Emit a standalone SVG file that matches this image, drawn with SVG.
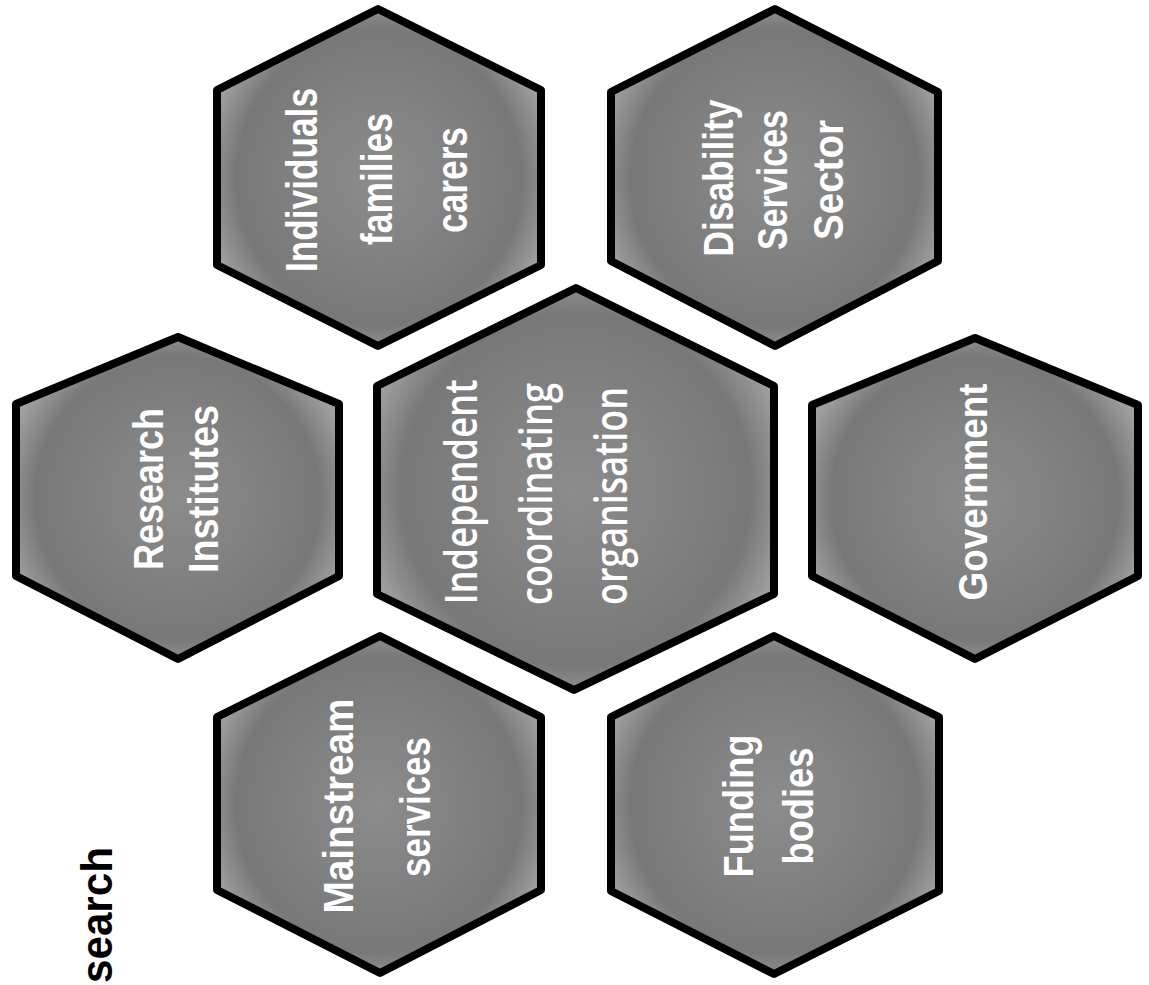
<svg xmlns="http://www.w3.org/2000/svg" width="1149" height="985" viewBox="0 0 1149 985">
<defs>
<radialGradient id="hexFill" cx="50%" cy="50%" r="55%">
<stop offset="0%" stop-color="#8c8c8c"/>
<stop offset="80%" stop-color="#787878"/>
<stop offset="100%" stop-color="#a0a0a0"/>
</radialGradient>
<style>
.hex{fill:url(#hexFill);stroke:#000;stroke-width:8;stroke-linejoin:round}
.lbl{fill:#fff;font-family:"Liberation Sans",Arial,sans-serif;font-weight:700;text-anchor:middle}
.lbl2{fill:#fff;font-family:"Open Sans","Liberation Sans",sans-serif;font-weight:600;text-anchor:middle}
.title{fill:#000;font-family:"Liberation Sans",Arial,sans-serif;font-weight:700}
</style>
</defs>
<rect width="1149" height="985" fill="#fff"/>
<g id="connectors"/>
<g id="node-individuals">
<polygon class="hex" points="378,9 541,90 541,265 378,346 217,265 217,90"/>
<text class="lbl" font-size="44" textLength="184" lengthAdjust="spacingAndGlyphs" transform="translate(317,180) rotate(-90)">Individuals</text>
<text class="lbl" font-size="44" textLength="132" lengthAdjust="spacingAndGlyphs" transform="translate(392,179) rotate(-90)">families</text>
<text class="lbl" font-size="44" textLength="106" lengthAdjust="spacingAndGlyphs" transform="translate(467,180) rotate(-90)">carers</text>
</g>
<g id="node-disability">
<polygon class="hex" points="775,9 938,92 938,261 775,346 611,261 611,92"/>
<text class="lbl" font-size="42" textLength="157" lengthAdjust="spacingAndGlyphs" transform="translate(733,178) rotate(-90)">Disability</text>
<text class="lbl" font-size="42" textLength="140" lengthAdjust="spacingAndGlyphs" transform="translate(787,180) rotate(-90)">Services</text>
<text class="lbl" font-size="42" textLength="120" lengthAdjust="spacingAndGlyphs" transform="translate(843,180) rotate(-90)">Sector</text>
</g>
<g id="node-research">
<polygon class="hex" points="178,337 339,404 339,576 178,659 16,576 16,404"/>
<text class="lbl" font-size="42" textLength="162" lengthAdjust="spacingAndGlyphs" transform="translate(163,489) rotate(-90)">Research</text>
<text class="lbl" font-size="42" textLength="168" lengthAdjust="spacingAndGlyphs" transform="translate(218,489) rotate(-90)">Institutes</text>
</g>
<g id="node-independent">
<polygon class="hex" points="576,288 774,386 774,594 574,690 377,594 377,386"/>
<text class="lbl2" font-size="46" textLength="225" lengthAdjust="spacingAndGlyphs" transform="translate(477,492) rotate(-90)">Independent</text>
<text class="lbl2" font-size="46" textLength="222" lengthAdjust="spacingAndGlyphs" transform="translate(552,494) rotate(-90)">coordinating</text>
<text class="lbl2" font-size="46" textLength="218" lengthAdjust="spacingAndGlyphs" transform="translate(627,496) rotate(-90)">organisation</text>
</g>
<g id="node-government">
<polygon class="hex" points="975,338 1138,405 1138,576 975,659 812,576 812,405"/>
<text class="lbl" font-size="40" textLength="217" lengthAdjust="spacingAndGlyphs" transform="translate(987,492) rotate(-90)">Government</text>
</g>
<g id="node-mainstream">
<polygon class="hex" points="380,636 541,717 541,890 380,973 217,890 217,717"/>
<text class="lbl" font-size="42" textLength="215" lengthAdjust="spacingAndGlyphs" transform="translate(353,806) rotate(-90)">Mainstream</text>
<text class="lbl" font-size="42" textLength="140" lengthAdjust="spacingAndGlyphs" transform="translate(430,807) rotate(-90)">services</text>
</g>
<g id="node-funding">
<polygon class="hex" points="774,636 939,717 939,891 774,974 611,891 611,717"/>
<text class="lbl" font-size="42" textLength="143" lengthAdjust="spacingAndGlyphs" transform="translate(753,806) rotate(-90)">Funding</text>
<text class="lbl" font-size="42" textLength="117" lengthAdjust="spacingAndGlyphs" transform="translate(813,806) rotate(-90)">bodies</text>
</g>
<g id="title">
<text class="title" font-size="44" textLength="136" lengthAdjust="spacingAndGlyphs" transform="translate(112,983) rotate(-90)">search</text>
</g>
</svg>
